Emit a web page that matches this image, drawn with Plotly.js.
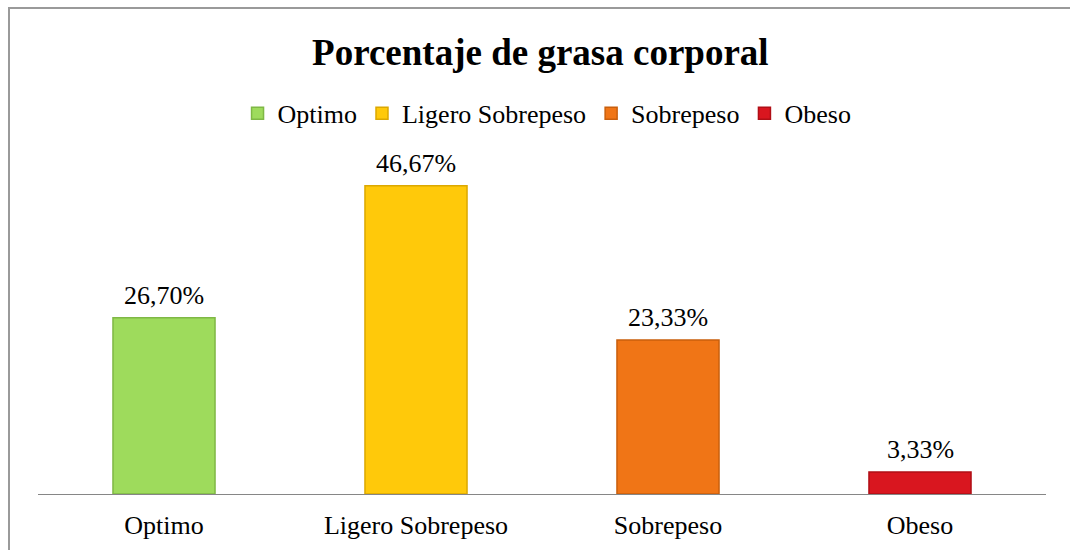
<!DOCTYPE html>
<html>
<head>
<meta charset="utf-8">
<script src="https://cdn.plot.ly/plotly-3.0.1.min.js"></script>
<style>
  html, body { margin: 0; padding: 0; background: #fff; }
  #wrap { position: relative; width: 1070px; height: 550px; overflow: hidden; }
  #chart { width: 1070px; height: 550px; }
  #frame { position: absolute; left: 8px; top: 7px; width: 1100px; height: 600px;
           border-top: 2px solid #9a9a9a; border-left: 2px solid #9a9a9a; pointer-events: none; }
</style>
</head>
<body>
<div id="wrap">
  <div id="chart"></div>
  <div id="frame"></div>
</div>
<script>
const categories = ["Optimo", "Ligero Sobrepeso", "Sobrepeso", "Obeso"];
const values = [26.70, 46.67, 23.33, 3.33];
const labels = ["26,70%", "46,67%", "23,33%", "3,33%"];
const colors = ["#9edb5c", "#ffc90a", "#f07516", "#d9161f"];
const edgeColors = ["#7fb845", "#dca800", "#c95f0c", "#b00f16"];

const serif = "Liberation Serif, Times New Roman, serif";

const traces = categories.map((c, i) => ({
  type: "bar",
  name: c,
  x: [c],
  y: [values[i]],
  width: 0.405,
  marker: { color: colors[i], line: { color: edgeColors[i], width: 1.5 } },
  hoverinfo: "skip"
}));

const annotations = categories.map((c, i) => ({
  x: c, y: values[i], xref: "x", yref: "y",
  text: labels[i], showarrow: false,
  yanchor: "bottom", yshift: 6,
  font: { family: serif, size: 26, color: "#000" }
}));

const layout = {
  width: 1070, height: 550,
  margin: { l: 38, r: 24, t: 140, b: 56 },
  paper_bgcolor: "#fff", plot_bgcolor: "#fff",
  barmode: "overlay",
  title: {
    text: "<b>Porcentaje de grasa corporal</b>",
    font: { family: serif, size: 37, color: "#000" },
    x: 0.505, xanchor: "center", y: 0.905, yanchor: "middle", yref: "container"
  },
  showlegend: true,
  legend: {
    orientation: "h", x: 0.505, xanchor: "center", y: 1.075, yanchor: "middle",
    font: { family: serif, size: 26, color: "#000" },
    itemwidth: 30, traceorder: "normal", tracegroupgap: 0,
    itemclick: false
  },
  xaxis: {
    type: "category", categoryorder: "array", categoryarray: categories,
    showline: true, linecolor: "#868686", linewidth: 1,
    ticks: "", showgrid: false, zeroline: false,
    tickfont: { family: serif, size: 26, color: "#000" },
    ticklabelstandoff: 8,
    fixedrange: true
  },
  yaxis: {
    range: [0, 53.6], visible: false, showgrid: false, zeroline: false, fixedrange: true
  },
  annotations: annotations
};

Plotly.newPlot("chart", traces, layout, { displayModeBar: false, staticPlot: true });
</script>
</body>
</html>
